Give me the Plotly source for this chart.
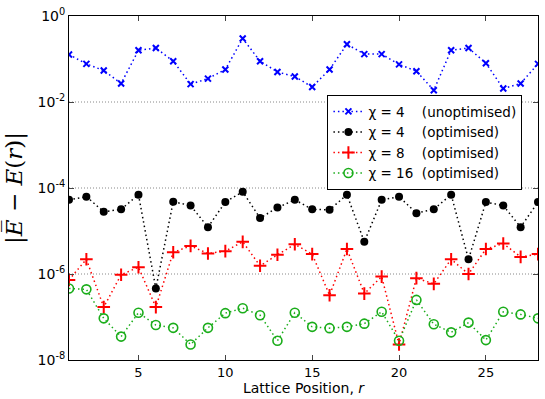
import plotly.graph_objects as go

# positions along the lattice
r = list(range(1, 29))

# |E_bar - E(r)| for each run
unopt_chi4 = [0.127, 0.077, 0.054, 0.027, 0.16, 0.18, 0.089, 0.026, 0.035, 0.057,
              0.30, 0.089, 0.05, 0.039, 0.0224, 0.057, 0.22, 0.13, 0.13, 0.075,
              0.052, 0.0188, 0.16, 0.18, 0.08, 0.0206, 0.027, 0.077]
opt_chi4 = [5.3e-5, 6.3e-5, 2.8e-5, 3.2e-5, 7.0e-5, 4.6e-7, 4.8e-5, 3.9e-5, 1.23e-5, 4.7e-5,
            8.2e-5, 2.0e-5, 3.5e-5, 5.3e-5, 3.2e-5, 3.1e-5, 7.0e-5, 5.6e-6, 5.3e-5, 6.3e-5,
            2.6e-5, 3.2e-5, 7.0e-5, 2.2e-6, 4.7e-5, 3.9e-5, 1.23e-5, 4.7e-5]
opt_chi8 = [7.3e-7, 2.2e-6, 1.7e-7, 9.6e-7, 1.44e-6, 1.7e-7, 3.2e-6, 4.5e-6, 3.0e-6, 3.4e-6,
            5.6e-6, 1.55e-6, 2.8e-6, 4.9e-6, 2.9e-6, 3.2e-7, 3.8e-6, 3.5e-7, 8.7e-7, 2.3e-8,
            8.0e-7, 5.9e-7, 2.2e-6, 1.0e-6, 3.8e-6, 5.1e-6, 2.5e-6, 2.9e-6]
opt_chi16 = [4.6e-7, 4.4e-7, 9.3e-8, 3.5e-8, 1.26e-7, 6.5e-8, 5.6e-8, 2.3e-8, 5.6e-8, 1.23e-7,
             1.6e-7, 1.1e-7, 2.8e-8, 1.26e-7, 5.9e-8, 5.5e-8, 5.9e-8, 7.0e-8, 1.32e-7, 2.8e-8,
             2.5e-7, 6.8e-8, 4.4e-8, 7.4e-8, 2.9e-8, 1.32e-7, 1.15e-7, 9.3e-8]

names = ["χ = 4    (unoptimised)", "χ = 4    (optimised)",
         "χ = 8    (optimised)", "χ = 16  (optimised)"]

ytickvals = [1, 1e-2, 1e-4, 1e-6, 1e-8]
yticktext = ["10<sup>0</sup>", "10<sup>-2</sup>", "10<sup>-4</sup>",
             "10<sup>-6</sup>", "10<sup>-8</sup>"]

fig = go.Figure()

# series styles: colour, marker symbol, marker size, marker line width
styles = [
    ("#0000ff", "x-thin", 6, 2),
    ("#000000", "circle", 8, 0),
    ("#ff0000", "cross-thin", 9, 2),
    ("#1aad1a", "circle-open", 9, 1.6),
]
for ys, name, (col, sym, sz, lw) in zip([unopt_chi4, opt_chi4, opt_chi8, opt_chi16], names, styles):
    fig.add_trace(go.Scatter(
        x=r, y=ys, name=name, mode="lines+markers",
        line=dict(color=col, width=1.5, dash="1.5px,3px"),
        marker=dict(symbol=sym, size=sz, color=col, line=dict(color=col, width=lw)),
    ))

# dotted gridlines at every second decade
for v in [1e-2, 1e-4, 1e-6]:
    fig.add_shape(type="line", xref="paper", x0=0, x1=1, y0=v, y1=v,
                  line=dict(color="#888888", width=1, dash="1px,2px"), layer="below")

fig.update_layout(
    width=545, height=399,
    margin=dict(l=69, r=6, t=12, b=39),
    paper_bgcolor="white", plot_bgcolor="white",
    font=dict(family="DejaVu Sans", size=12, color="black"),
    showlegend=True,
    legend=dict(x=0.551, y=0.77, xanchor="left", yanchor="top",
                bordercolor="black", borderwidth=1, bgcolor="white",
                font=dict(size=13.5), tracegroupgap=0, itemwidth=30),
)
fig.update_xaxes(
    range=[1, 28], tickvals=[5, 10, 15, 20, 25], ticks="inside", ticklen=5,
    showline=True, linecolor="black", mirror="ticks", showgrid=False, zeroline=False,
    title=dict(text="Lattice Position, <i>r</i>", standoff=3, font=dict(size=14)),
    tickfont=dict(size=13),
)
fig.update_yaxes(
    type="log", range=[-8, 0], tickvals=ytickvals, ticktext=yticktext,
    ticks="inside", ticklen=5, showline=True, linecolor="black", mirror="ticks",
    showgrid=False, zeroline=False, tickfont=dict(size=14),
    title=dict(text="|<i>E̅</i> − <i>E</i>(<i>r</i>)|", standoff=8,
               font=dict(family="DejaVu Serif", size=23)),
)

# drop the page's default body margin so the figure sits at the window's corner
fig.write_html("out.html", config={"displayModeBar": False},
               post_script="document.body.style.margin='0';")
